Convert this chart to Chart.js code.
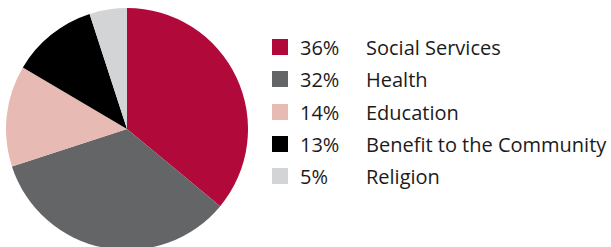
<!DOCTYPE html>
<html>
<head>
<meta charset="utf-8">
<script src="https://cdn.jsdelivr.net/npm/chart.js@4"></script>
<style>
    html, body { margin: 0; padding: 0; background: #fff; }
    body { width: 611px; height: 247px; overflow: hidden; position: relative; font-family: "Open Sans", sans-serif; }
    #pieChart { position: absolute; left: 6px; top: 8px; }
    #legend { position: absolute; left: 272px; top: 32px; }
    .row { position: relative; height: 32.3px; font-size: 20px; color: #1b1b1b; white-space: nowrap; }
    .row .box { position: absolute; left: 0; top: 7px; width: 16px; height: 16px; }
    .row .pct { position: absolute; left: 28px; top: 1px; line-height: 30px; }
    .row .lbl { position: absolute; left: 94px; top: 1px; line-height: 30px; }
</style>
</head>
<body>
<canvas id="pieChart" width="242" height="242"></canvas>
<div id="legend"></div>
<script>
    // Data
    const categories = ['Social Services', 'Health', 'Education', 'Benefit to the Community', 'Religion'];
    // slice sizes as drawn in the picture
    const sliceValues = [36, 34, 13.5, 11.5, 5];
    // percentages as printed in the legend
    const percentLabels = ['36%', '32%', '14%', '13%', '5%'];
    const sliceColors = ['#b0093a', '#646567', '#e8bab4', '#000000', '#d3d4d6'];

    const config = {
        type: 'pie',
        data: {
            labels: categories,
            datasets: [{
                data: sliceValues,
                backgroundColor: sliceColors,
                borderWidth: 0
            }]
        },
        options: {
            responsive: false,
            animation: false,
            layout: { padding: 0 },
            plugins: {
                legend: { display: false },
                tooltip: { enabled: false }
            }
        }
    };

    new Chart(document.getElementById('pieChart'), config);

    // legend on the right: box, percent, label
    const legend = document.getElementById('legend');
    categories.forEach((name, idx) => {
        const row = document.createElement('div');
        row.className = 'row';
        row.innerHTML = `<span class="box" style="background:${sliceColors[idx]}"></span>` +
            `<span class="pct">${percentLabels[idx]}</span><span class="lbl">${name}</span>`;
        legend.appendChild(row);
    });
</script>
</body>
</html>
